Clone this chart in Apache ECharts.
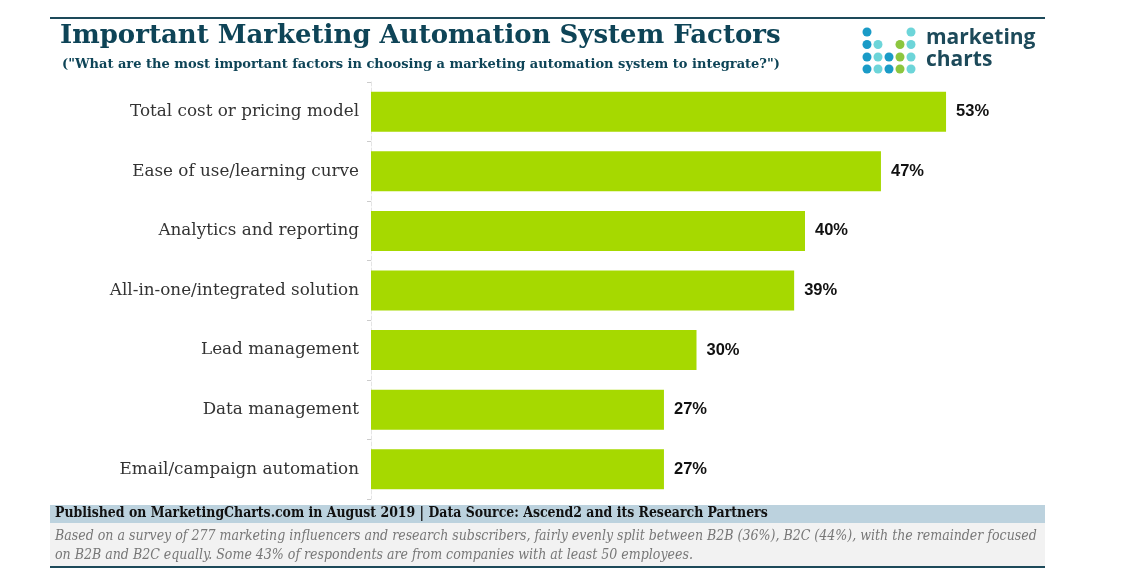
<!DOCTYPE html>
<html><head><meta charset="utf-8">
<script src="https://cdn.jsdelivr.net/npm/echarts@6/dist/echarts.min.js"></script>
<style>html,body{margin:0;padding:0;background:#fff}#c{width:1123px;height:574px}</style>
</head><body><div id="c"></div>
<script>
const categories = ["Total cost or pricing model","Ease of use/learning curve","Analytics and reporting","All-in-one/integrated solution","Lead management","Data management","Email/campaign automation"];
const values = [53,47,40,39,30,27,27];
const titleText = "Important Marketing Automation System Factors";
const subtitleText = "(\"What are the most important factors in choosing a marketing automation system to integrate?\")";
const sourceText = "Published on MarketingCharts.com in August 2019 | Data Source: Ascend2 and its Research Partners";
const noteLine1 = "Based on a survey of 277 marketing influencers and research subscribers, fairly evenly split between B2B (36%), B2C (44%), with the remainder focused";
const noteLine2 = "on B2B and B2C equally. Some 43% of respondents are from companies with at least 50 employees.";

const chart = echarts.init(document.getElementById('c'), null, {renderer:'canvas'});
const blue='#1a9bc7', teal='#6dd5d9', green='#8cc63f';
const dotMap = [[blue,null,null,null,teal],[blue,teal,null,green,teal],[blue,teal,blue,green,teal],[blue,teal,blue,green,teal]];
const dotX=[867,878,889,900,911], dotY=[32,44.5,57,69];
const dots=[];
dotMap.forEach((row,ri)=>row.forEach((c,ci)=>{ if(c) dots.push({type:'circle',shape:{cx:dotX[ci],cy:dotY[ri],r:4.5},style:{fill:c}}); }));

chart.setOption({
  animation:false,
  grid:{left:371,top:82,width:651,bottom:75,containLabel:false},
  xAxis:{type:'value',min:0,max:60,show:false},
  yAxis:{type:'category',data:categories,inverse:true,
    axisLine:{show:true,lineStyle:{color:'#e4e4e4',width:1,type:'dashed'}},
    axisTick:{show:true,length:4,lineStyle:{color:'#cccccc'}},
    axisLabel:{margin:12,fontFamily:'DejaVu Serif',fontSize:16.8,color:'#333'}},
  series:[{type:'bar',data:values,barWidth:40,itemStyle:{color:'#a6d900'},
    label:{show:true,position:'right',distance:10,formatter:'{c}%',fontFamily:'Liberation Sans',fontWeight:'bold',fontSize:16.5,color:'#111'}}],
  graphic:[
    {type:'rect',shape:{x:50,y:17,width:995,height:2},style:{fill:'#1d4a5a'}},
    {type:'text',left:60,top:23,style:{text:titleText,font:'bold 26px "DejaVu Serif"',fill:'#0e4457'}},
    {type:'text',left:62,top:58,style:{text:subtitleText,font:'bold 13px "DejaVu Serif"',fill:'#0e4457'}},
    ...dots,
    {type:'text',left:926,top:27,style:{text:'marketing\ncharts',font:'bold 21px "Open Sans"',lineHeight:22,fill:'#1d4a5a'}},
    {type:'rect',shape:{x:50,y:505,width:995,height:18},style:{fill:'#bcd2de'}},
    {type:'rect',shape:{x:50,y:523,width:995,height:43},style:{fill:'#f2f2f2'}},
    {type:'rect',shape:{x:50,y:566,width:995,height:2},style:{fill:'#1d4a5a'}},
    {type:'text',left:55,top:506,style:{text:sourceText,font:'bold 13.9px "DejaVu Serif Condensed"',fill:'#111'}},
    {type:'text',left:55,top:527,style:{text:noteLine1+'\n'+noteLine2,font:'italic 14px "DejaVu Serif Condensed"',lineHeight:19,fill:'#777'}}
  ]
});
</script></body></html>
